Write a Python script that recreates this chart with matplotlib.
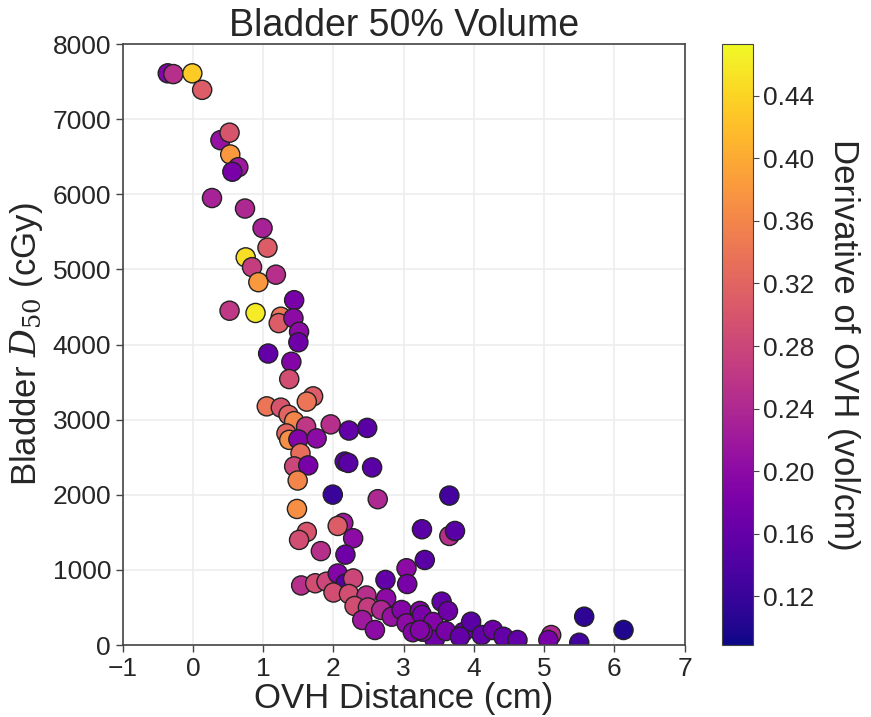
import numpy as np
import matplotlib
matplotlib.use("Agg")
import matplotlib.pyplot as plt

plt.rcParams['font.family'] = ['Liberation Sans', 'DejaVu Sans']
plt.rcParams['mathtext.fontset'] = 'dejavuserif'

# OVH distance (cm), bladder D50 (cGy), derivative of OVH (vol/cm)
ovh_dist = [-0.36, -0.28, -0.01, 0.13, 0.39, 0.52, 0.53, 0.645, 0.56, 0.27,
            0.74, 0.99, 1.06, 0.75, 0.84, 0.93, 1.18, 1.44, 0.52, 0.89,
            1.25, 1.22, 1.43, 1.51, 1.50, 1.07, 1.40, 1.37, 1.71, 1.62,
            1.05, 1.25, 1.36, 1.44, 1.61, 1.96, 2.22, 2.48, 1.33, 1.37,
            1.50, 1.76, 1.53, 1.44, 1.64, 2.16, 2.21, 2.55, 1.49, 1.99,
            2.63, 3.65, 1.48, 2.14, 2.06, 1.62, 1.51, 2.28, 1.82, 2.17,
            3.26, 3.65, 3.73, 3.30, 3.04, 3.05, 2.74, 1.54, 1.74, 1.90,
            2.06, 2.17, 2.28, 2.00, 2.22, 2.47, 2.30, 2.49, 2.75, 2.68,
            2.41, 2.59, 2.83, 2.97, 3.04, 3.23, 3.26, 3.13, 3.42, 3.54,
            3.63, 3.44, 3.60, 3.27, 3.85, 3.96, 4.11, 4.27, 4.42, 4.62,
            3.23, 3.80, 5.10, 5.06, 5.57, 5.50, 6.13]
bladder_d50 = [7610, 7600, 7610, 7390, 6720, 6820, 6530, 6360, 6300, 5950,
               5810, 5550, 5290, 5160, 5030, 4830, 4930, 4590, 4450, 4420,
               4370, 4285, 4350, 4170, 4030, 3880, 3770, 3540, 3310, 3240,
               3177, 3160, 3064, 2980, 2908, 2937, 2855, 2890, 2817, 2731,
               2737, 2751, 2553, 2378, 2391, 2442, 2424, 2364, 2190, 2002,
               1941, 1989, 1811, 1625, 1585, 1505, 1399, 1421, 1250, 1203,
               1541, 1452, 1518, 1132, 1022, 812, 866, 793, 822, 843,
               952, 817, 886, 699, 679, 659, 519, 500, 622, 466,
               333, 200, 377, 466, 289, 453, 400, 170, 306, 577,
               453, 67, 186, 177, 173, 310, 133, 200, 110, 67,
               200, 110, 133, 67, 377, 30, 200]
ovh_deriv = [0.19, 0.25, 0.43, 0.31, 0.21, 0.30, 0.38, 0.22, 0.18, 0.23,
             0.24, 0.23, 0.31, 0.45, 0.27, 0.38, 0.25, 0.18, 0.26, 0.46,
             0.34, 0.31, 0.20, 0.20, 0.17, 0.16, 0.19, 0.29, 0.31, 0.34,
             0.34, 0.30, 0.32, 0.36, 0.26, 0.25, 0.16, 0.15, 0.32, 0.37,
             0.19, 0.20, 0.33, 0.28, 0.18, 0.15, 0.15, 0.15, 0.36, 0.12,
             0.24, 0.13, 0.37, 0.22, 0.31, 0.30, 0.29, 0.20, 0.25, 0.17,
             0.15, 0.25, 0.15, 0.15, 0.20, 0.18, 0.16, 0.25, 0.29, 0.28,
             0.19, 0.15, 0.28, 0.29, 0.29, 0.25, 0.29, 0.27, 0.20, 0.24,
             0.22, 0.20, 0.21, 0.19, 0.20, 0.19, 0.18, 0.19, 0.19, 0.16,
             0.17, 0.17, 0.18, 0.19, 0.17, 0.15, 0.16, 0.17, 0.16, 0.16,
             0.19, 0.16, 0.24, 0.18, 0.11, 0.13, 0.10]

cbar_ticks = [0.12, 0.16, 0.20, 0.24, 0.28, 0.32, 0.36, 0.40, 0.44]

text_col = '#262626'
fig = plt.figure(figsize=(8.71, 7.17), dpi=100)
ax = fig.add_axes([0.141, 0.1004, 0.645, 0.8382])
cax = fig.add_axes([0.829, 0.1004, 0.035, 0.8382])

ax.set_axisbelow(True)
ax.grid(True, color='#ededed', lw=1.2)
sc = ax.scatter(ovh_dist, bladder_d50, c=ovh_deriv, cmap='plasma',
                vmin=0.089, vmax=0.473, s=190, edgecolors='#222222',
                linewidths=1.0)

ax.set_xlim(-1, 7)
ax.set_ylim(0, 8000)
ax.set_xticks(range(-1, 8))
ax.set_yticks(range(0, 8001, 1000))
for sp in ax.spines.values():
    sp.set_color('#444444')
    sp.set_linewidth(1.2)
ax.tick_params(labelsize=19, colors=text_col, length=5, width=1, color='#444444')

ax.set_title('Bladder 50% Volume', fontsize=27, color=text_col, pad=3)
ax.set_xlabel('OVH Distance (cm)', fontsize=25, color=text_col, labelpad=1)
ax.set_ylabel('Bladder $D_{50}$ (cGy)', fontsize=25, color=text_col, labelpad=5)

cb = fig.colorbar(sc, cax=cax, ticks=cbar_ticks)
cb.ax.set_yticklabels(['%.2f' % t for t in cbar_ticks])
cb.ax.tick_params(labelsize=19, colors=text_col, length=4, color='#444444')
cb.outline.set_edgecolor('#444444')
cb.set_label('Derivative of OVH (vol/cm)', fontsize=25, color=text_col,
             rotation=270, labelpad=33)

fig.savefig('out.png', dpi=100)
